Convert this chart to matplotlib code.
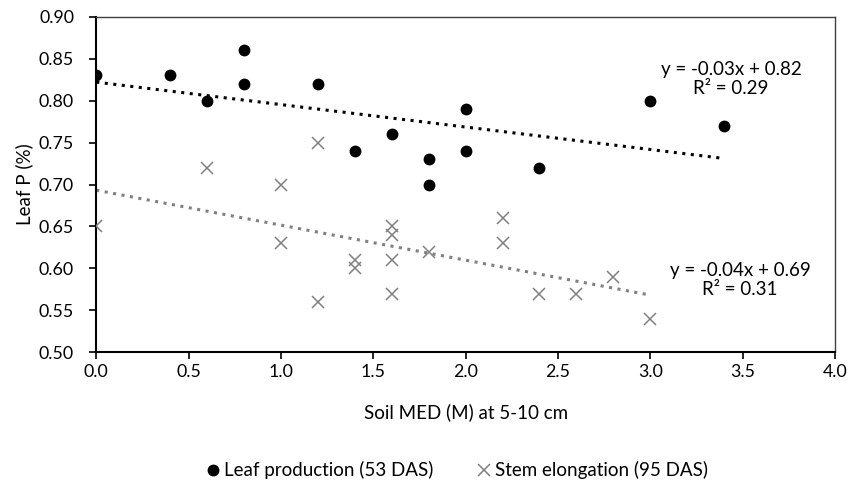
import numpy as np
import matplotlib.pyplot as plt

plt.rcParams['font.family'] = ['Lato', 'DejaVu Sans']

# Leaf production (53 DAS)
leaf_x = [0.0, 0.4, 0.6, 0.8, 0.8, 1.2, 1.4, 1.6, 1.8, 1.8, 2.0, 2.0, 2.4, 3.0, 3.4]
leaf_y = [0.83, 0.83, 0.80, 0.86, 0.82, 0.82, 0.74, 0.76, 0.73, 0.70, 0.79, 0.74, 0.72, 0.80, 0.77]

# Stem elongation (95 DAS)
stem_x = [0.0, 0.6, 1.0, 1.0, 1.2, 1.2, 1.4, 1.4, 1.6, 1.6, 1.6, 1.6, 1.8, 2.2, 2.2, 2.4, 2.6, 2.8, 3.0]
stem_y = [0.65, 0.72, 0.70, 0.63, 0.75, 0.56, 0.61, 0.60, 0.65, 0.64, 0.61, 0.57, 0.62, 0.66, 0.63, 0.57, 0.57, 0.59, 0.54]

leaf_eq = "y = -0.03x + 0.82\nR² = 0.29"
stem_eq = "y = -0.04x + 0.69\nR² = 0.31"

fig = plt.figure(figsize=(8.52, 4.94), dpi=100)
ax = fig.add_axes([0.113, 0.287, 0.867, 0.679])

ax.plot(leaf_x, leaf_y, 'o', color='black', ms=7.5, label='Leaf production (53 DAS)', zorder=3)
ax.plot(stem_x, stem_y, 'x', color='#808080', ms=8, mew=1.1, label='Stem elongation (95 DAS)', zorder=3)

# linear trendlines
for xs, ys, col in [(leaf_x, leaf_y, 'black'), (stem_x, stem_y, '#808080')]:
    m, b = np.polyfit(xs, ys, 1)
    xx = np.array([min(xs), max(xs)])
    ax.plot(xx, m * xx + b, color=col, lw=2.2, ls=(0, (1, 1.8)), zorder=2)

ax.text(3.437, 0.826, leaf_eq, ha='center', va='center', fontsize=13.5, linespacing=1.1)
ax.text(3.486, 0.586, stem_eq, ha='center', va='center', fontsize=13.5, linespacing=1.1)

ax.set_xlim(0, 4)
ax.set_ylim(0.5, 0.9)
ax.set_xticks(np.arange(0, 4.01, 0.5))
ax.set_yticks(np.arange(0.5, 0.901, 0.05))
ax.xaxis.set_major_formatter(plt.FormatStrFormatter('%.1f'))
ax.yaxis.set_major_formatter(plt.FormatStrFormatter('%.2f'))
ax.tick_params(labelsize=12.8, length=5, width=1.2, direction='out')
ax.tick_params(axis='y', pad=11)

for s in ['left', 'bottom']:
    ax.spines[s].set_linewidth(1.5)
    ax.spines[s].set_color('black')
for s in ['top', 'right']:
    ax.spines[s].set_linewidth(1)
    ax.spines[s].set_color('#404040')

ax.set_xlabel('Soil MED (M) at 5-10 cm', fontsize=13.5, labelpad=17)
ax.set_ylabel('Leaf P (%)', fontsize=13.5, labelpad=4)

fig.legend(loc='center', bbox_to_anchor=(0.535, 0.048), ncol=2, frameon=False,
           fontsize=13.5, handletextpad=0.1, columnspacing=2.2, handlelength=1)

fig.savefig('out.png', dpi=100)
